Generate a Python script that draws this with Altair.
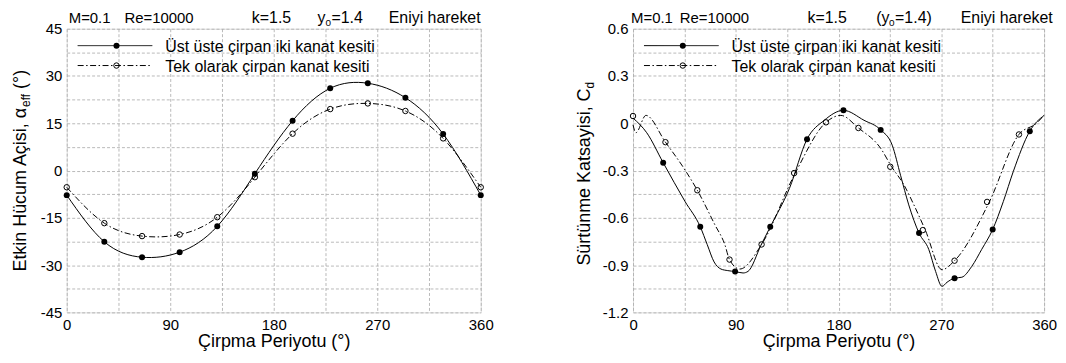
import altair as alt
import pandas as pd

FONT = "Liberation Sans"

# ---------------- Left panel: effective angle of attack ----------------
phase_left = [0, 32.7, 65.5, 98.2, 130.9, 163.6, 196.4, 229.1, 261.8, 294.5, 327.3, 360]
alpha_two_wings = [-7.8, -22.6, -27.5, -25.9, -17.7, -1.0, 15.8, 26.1, 27.7, 23.1, 11.6, -7.8]
alpha_single_wing = [-5.3, -16.7, -20.8, -20.3, -14.8, -2.1, 11.7, 19.5, 21.3, 18.9, 10.2, -5.3]

# ---------------- Right panel: drag coefficient ----------------
cd_two_marker_phase = [26.4, 58.9, 89.4, 120.2, 152.4, 184.3, 216.9, 250.5, 281.6, 315.0, 347.5]
cd_two_marker = [-0.25, -0.657, -0.941, -0.657, -0.101, 0.082, -0.042, -0.697, -0.983, -0.674, -0.05]
cd_single_marker_phase = [0, 28.4, 56.3, 84.5, 112.6, 141.1, 169.0, 197.4, 225.3, 253.8, 281.6, 310.1, 338.0]
cd_single_marker = [0.046, -0.12, -0.425, -0.865, -0.769, -0.316, 0.006, -0.03, -0.276, -0.678, -0.872, -0.499, -0.071]

cd_two_line_phase = [0, 12, 26.4, 45.6, 58.9, 65, 71, 77, 83, 89.4, 96.4, 100.7, 112.3, 120.2, 137, 152.4,
                     167.5, 184.3, 202.3, 216.9, 227, 234.3, 241.5, 250.5, 259, 265, 270.6, 275, 281.6,
                     288, 296.7, 305.4, 315.0, 324.3, 333, 347.5, 360]
cd_two_line = [0.033, -0.06, -0.25, -0.497, -0.657, -0.77, -0.88, -0.925, -0.935, -0.941, -0.95, -0.94, -0.77,
               -0.657, -0.413, -0.101, 0.019, 0.082, 0.019, -0.042, -0.139, -0.33, -0.518, -0.697, -0.80,
               -0.94, -1.035, -1.009, -0.983, -0.977, -0.908, -0.8, -0.674, -0.497, -0.307, -0.05, 0.05]
cd_single_line_phase = [0, 2.5, 11.3, 28.4, 45.6, 56.3, 71.7, 80.4, 84.5, 93.5, 112.6, 142, 169, 182,
                        197.4, 217, 226.5, 237.2, 246, 256.1, 270.6, 281.6, 312, 338, 353.3, 360]
cd_single_line = [-0.01, -0.06, 0.05, -0.12, -0.297, -0.425, -0.644, -0.77, -0.865, -0.925, -0.769,
                  -0.317, 0.006, 0.05, -0.03, -0.16, -0.276, -0.39, -0.518, -0.68, -0.929, -0.872,
                  -0.5, -0.071, 0.0, 0.05]

# ---------------- axes ----------------
x_grid = [0, 45, 90, 135, 180, 225, 270, 315, 360]
x_labels = [(0, "0"), (90, "90"), (180, "180"), (270, "270"), (360, "360")]
left_y_grid = [-45, -37.5, -30, -22.5, -15, -7.5, 0, 7.5, 15, 22.5, 30, 37.5, 45]
left_y_labels = [(-45, "-45"), (-30, "-30"), (-15, "-15"), (0, "0"), (15, "15"), (30, "30"), (45, "45")]
right_y_grid = [-1.2, -1.05, -0.9, -0.75, -0.6, -0.45, -0.3, -0.15, 0, 0.15, 0.3, 0.45, 0.6]
right_y_labels = [(-1.2, "-1.2"), (-0.9, "-0.9"), (-0.6, "-0.6"), (-0.3, "-0.3"), (0, "0"), (0.3, "0.3"), (0.6, "0.6")]

legend_labels = ["Üst üste çirpan iki kanat kesiti", "Tek olarak çirpan kanat kesiti"]
x_title = "Çirpma Periyotu (°)"


def label_expr(pairs):
    expr = "''"
    for v, s in reversed(pairs):
        expr = f"abs(datum.value - ({v})) < 1e-6 ? '{s}' : ({expr})"
    return expr


def make_axis(values, pairs, title=None):
    kw = dict(values=values, labelExpr=label_expr(pairs), grid=True, ticks=False, domain=False,
              labelFont=FONT, labelFontSize=15, labelColor="black", labelPadding=5,
              gridColor="#a8a8a8", gridDash=[3, 2], gridWidth=0.8, labelFlush=False,
              labelOverlap=False)
    if title is not None:
        kw.update(title=title, titleFont=FONT, titleFontSize=18, titleFontWeight="normal",
                  titleColor="black", titlePadding=0)
    else:
        kw.update(title=None)
    return alt.Axis(**kw)


DUMMY = pd.DataFrame({"d": [0]})


def txt(text, x, y, size, angle=0, align="left", baseline="alphabetic"):
    return alt.Chart(DUMMY).mark_text(text=text, font=FONT, fontSize=size, angle=angle, align=align,
                                      baseline=baseline, color="black").encode(
        x=alt.value(x), y=alt.value(y))


def legend_items():
    layers = []
    rows = [(17, []), (37, [6, 2.5, 1.5, 2.5])]
    for (yy, dash), lab, filled in zip(rows, legend_labels, [True, False]):
        rule = alt.Chart(DUMMY).mark_rule(color="black", strokeWidth=1, strokeDash=dash if dash else [1, 0]).encode(
            x=alt.value(11), x2=alt.value(86), y=alt.value(yy))
        pt = alt.Chart(DUMMY).mark_point(shape="circle", filled=filled, size=36 if filled else 30,
                                         color="black", strokeWidth=1, opacity=1).encode(
            x=alt.value(50), y=alt.value(yy))
        layers += [rule, pt, txt(lab, 99, yy + 1, 16, baseline="middle")]
    return layers


def panel(width, xdom, ydom, ygrid, ylabels, line_a, line_b, mark_a, mark_b, interp, extras):
    xax = make_axis(x_grid, x_labels, x_title)
    yax = make_axis(ygrid, ylabels)
    xenc = alt.X("x:Q", scale=alt.Scale(domain=xdom, nice=False, zero=False), axis=xax)
    yenc = alt.Y("y:Q", scale=alt.Scale(domain=ydom, nice=False, zero=False), axis=yax)
    la = alt.Chart(line_a).mark_line(color="black", strokeWidth=1, interpolate=interp).encode(
        x=xenc, y=yenc, order="x:Q")
    lb = alt.Chart(line_b).mark_line(color="black", strokeWidth=1, interpolate=interp,
                                     strokeDash=[6, 2.5, 1.5, 2.5]).encode(x=xenc, y=yenc, order="x:Q")
    pa = alt.Chart(mark_a).mark_point(shape="circle", filled=True, size=36, color="black", opacity=1).encode(
        x=xenc, y=yenc)
    pb = alt.Chart(mark_b).mark_point(shape="circle", filled=False, size=30, color="black",
                                      strokeWidth=1, opacity=1).encode(x=xenc, y=yenc)
    return alt.layer(la, lb, pa, pb, *legend_items(), *extras).properties(width=width, height=285)


left_line_a = pd.DataFrame({"x": phase_left, "y": alpha_two_wings})
left_line_b = pd.DataFrame({"x": phase_left, "y": alpha_single_wing})

left_extras = [
    txt("M=0.1", 2, -6, 15), txt("Re=10000", 58, -6, 15),
    txt("k=1.5", 186, -6, 16), txt("y", 252, -6, 16), txt("0", 260, -3, 10),
    txt("=1.4", 266, -6, 16), txt("Eniyi hareket", 323.5, -6, 16),
    txt("Etkin Hücum Açisi, α", -41, 244, 18, angle=270),
    txt("eff", -37, 78.6, 12, angle=270),
    txt("(°)", -41, 60.5, 18, angle=270),
]

right_extras = [
    txt("M=0.1", -2, -6, 15), txt("Re=10000", 47, -6, 15),
    txt("k=1.5", 175.3, -6, 16), txt("(y", 244.3, -6, 16), txt("0", 257.3, -3, 10),
    txt("=1.4)", 263.3, -6, 16), txt("Eniyi hareket", 329.3, -6, 16),
    txt("Sürtünme Katsayisi, C", -43, 238, 18, angle=270),
    txt("d", -39, 60, 12, angle=270),
]

left = panel(416, [0, 360], [-45, 45], left_y_grid, left_y_labels,
             left_line_a, left_line_b,
             pd.DataFrame({"x": phase_left, "y": alpha_two_wings}),
             pd.DataFrame({"x": phase_left, "y": alpha_single_wing}),
             "natural", left_extras)

right = panel(413, [0, 360], [-1.2, 0.6], right_y_grid, right_y_labels,
              pd.DataFrame({"x": cd_two_line_phase, "y": cd_two_line}),
              pd.DataFrame({"x": cd_single_line_phase, "y": cd_single_line}),
              pd.DataFrame({"x": cd_two_marker_phase, "y": cd_two_marker}),
              pd.DataFrame({"x": cd_single_marker_phase, "y": cd_single_marker}),
              "monotone", right_extras)

chart = alt.hconcat(left, right, spacing=81).properties(
    padding={"left": 3, "top": 0, "right": 0, "bottom": 0}
).configure_view(stroke="black", strokeWidth=1).configure(background="white")

chart.save("out.html", embed_options={"renderer": "svg", "actions": False})
